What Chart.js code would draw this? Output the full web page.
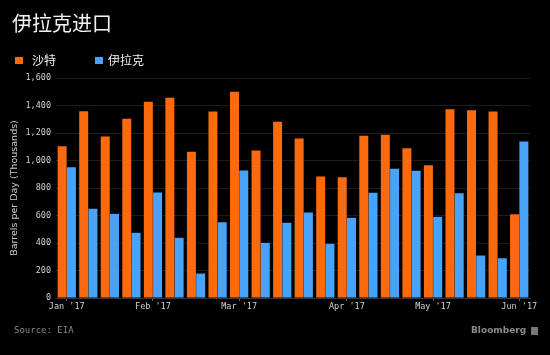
<!DOCTYPE html>
<html>
<head>
<meta charset="utf-8">
<script src="https://cdn.jsdelivr.net/npm/chart.js@4/dist/chart.umd.min.js"></script>
<style>
  html, body { margin: 0; padding: 0; background: #000; }
  #wrap { position: relative; width: 550px; height: 355px; background: #000; overflow: hidden; }
  #c { position: absolute; left: 0; top: 0; }
  .title { position: absolute; left: 12px; top: 11px; color: #f2f2f2; font: 20px "Noto Sans CJK SC", sans-serif; line-height: 24px; }
  .leg { position: absolute; top: 51px; color: #f0f0f0; font: 12px "Noto Sans CJK SC", sans-serif; line-height: 18px; }
  .sw { position: absolute; top: 6px; width: 8px; height: 7px; }
  .src { position: absolute; left: 14px; top: 325px; color: #8a8a8a; font: 9px "DejaVu Sans Mono", monospace; }
  .bb { position: absolute; left: 471px; top: 325px; color: #8a8a8a; font: bold 9px "DejaVu Sans", sans-serif; }
  .bbicon { position: absolute; left: 531px; top: 327px; width: 7px; height: 8px; background: #777; }
</style>
</head>
<body>
<div id="wrap">
  <canvas id="c" width="550" height="355"></canvas>
  <div class="title">伊拉克进口</div>
  <div class="leg" style="left:15px;"><span class="sw" style="left:0;background:#fd6a0e;"></span><span style="position:absolute;left:17px;white-space:nowrap;">沙特</span></div>
  <div class="leg" style="left:95px;"><span class="sw" style="left:0;background:#47a3f8;"></span><span style="position:absolute;left:13px;white-space:nowrap;">伊拉克</span></div>
  <div class="src">Source: EIA</div>
  <div class="bb">Bloomberg</div>
  <div class="bbicon"></div>
</div>
<script>
const weekLabels = ["Jan '17","","","","Feb '17","","","","Mar '17","","","","","Apr '17","","","","May '17","","","","Jun '17"];
const saudiImports = [1104,1358,1175,1303,1427,1456,1063,1356,1500,1073,1281,1160,884,879,1180,1187,1090,966,1373,1366,1356,609];
const iraqImports = [951,649,612,474,767,438,178,551,927,401,547,622,394,583,765,940,925,590,762,309,289,1138];
const seriesNames = ["沙特", "伊拉克"];
const yTicks = [0,200,400,600,800,1000,1200,1400,1600];

const monoFont = { family: "DejaVu Sans Mono", size: 8.5 };

new Chart(document.getElementById('c'), {
  type: 'bar',
  data: {
    labels: weekLabels,
    datasets: [
      { label: seriesNames[0], data: saudiImports, backgroundColor: '#fd6a0e', categoryPercentage: 0.86, barPercentage: 0.97 },
      { label: seriesNames[1], data: iraqImports, backgroundColor: '#47a3f8', categoryPercentage: 0.86, barPercentage: 0.97 }
    ]
  },
  options: {
    responsive: false,
    animation: false,
    devicePixelRatio: 1,
    layout: { padding: { left: 0, right: 20, top: 78, bottom: 35 } },
    plugins: { legend: { display: false }, tooltip: { enabled: false }, title: { display: false } },
    scales: {
      x: {
        type: 'category',
        offset: true,
        afterFit: s => { s.height = 22; },
        ticks: { autoSkip: false, maxRotation: 0, minRotation: 0, color: '#d0d0d0', font: monoFont, padding: 1 },
        grid: {
          offset: false,
          drawOnChartArea: false,
          drawTicks: true,
          tickLength: 3,
          color: ctx => (ctx.tick && ctx.tick.label) ? '#666' : 'rgba(0,0,0,0)'
        },
        border: { display: true, color: '#3a3a3a' }
      },
      y: {
        min: 0, max: 1600,
        afterFit: s => { s.width = 56; },
        afterBuildTicks: s => { s.ticks = yTicks.map(v => ({ value: v })); },
        ticks: {
          color: '#d0d0d0', font: monoFont, padding: 5,
          callback: v => v.toLocaleString('en-US')
        },
        grid: { color: '#1c1c1c', drawTicks: false },
        border: { display: false },
        title: {
          display: true, text: 'Barrels per Day (Thousands)', color: '#d0d0d0',
          font: { family: "DejaVu Sans", size: 9.5 }, padding: { top: 9, bottom: 0 }
        }
      }
    }
  }
});
</script>
</body>
</html>
